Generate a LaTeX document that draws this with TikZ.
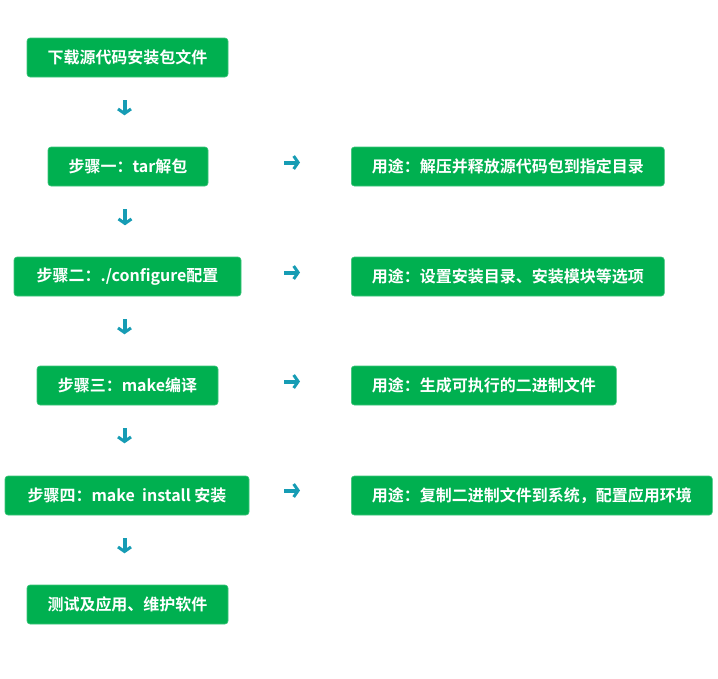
\documentclass[tikz,border=0pt]{standalone}
\usepackage{fontspec}
\usepackage{xcolor}
\usetikzlibrary{arrows.meta}
\newfontfamily\cjk[BoldFont={Noto Sans CJK SC Bold}]{Noto Sans CJK SC}

\definecolor{boxgreen}{HTML}{00B050}
\definecolor{edgegreen}{HTML}{3CC47A}
\definecolor{arrowteal}{HTML}{169CB4}

\begin{document}
\begin{tikzpicture}[x=1pt,y=-1pt,
    stepbox/.style={rectangle, rounded corners=3pt, fill=boxgreen, draw=edgegreen, line width=0.6pt,
        minimum height=39pt, inner sep=0pt, text=white, font=\cjk\bfseries\fontsize{16}{19}\selectfont},
    usebox/.style={stepbox, anchor=west},
    downarrow/.style={arrowteal, line width=4pt, -{Straight Barb[length=4.5pt,width=13pt,line width=3pt]}},
    rightarrow/.style={downarrow}]
        \useasboundingbox (0,0) rectangle (718,678);

        \node[stepbox, minimum width=201pt] (download) at (127.5,57.5) {下载源代码安装包文件};
        \node[stepbox, minimum width=160pt] (untar) at (128,166.5) {步骤一：tar解包};
        \node[stepbox, minimum width=227pt] (configure) at (127.5,276.5) {步骤二：./configure配置};
        \node[stepbox, minimum width=181pt] (make) at (127.5,385.5) {步骤三：make编译};
        \node[stepbox, minimum width=244pt] (install) at (127,495.5) {步骤四：make\ \ install 安装};
        \node[stepbox, minimum width=201pt] (test) at (127.5,604.5) {测试及应用、维护软件};

        \node[usebox, minimum width=313pt] (useuntar) at (351,166.5) {用途：解压并释放源代码包到指定目录};
        \node[usebox, minimum width=313pt] (useconfigure) at (351,276.5) {用途：设置安装目录、安装模块等选项};
        \node[usebox, minimum width=265pt] (usemake) at (351,385.5) {用途：生成可执行的二进制文件};
        \node[usebox, minimum width=361pt] (useinstall) at (351,495.5) {用途：复制二进制文件到系统，配置应用环境};

        % down arrows
        \draw[downarrow] ([xshift=-3pt,yshift=-23pt]download.south) -- ([xshift=-3pt,yshift=-38pt]download.south);
        \draw[downarrow] ([xshift=-3pt,yshift=-23pt]untar.south) -- ([xshift=-3pt,yshift=-39pt]untar.south);
        \draw[downarrow] ([xshift=-3pt,yshift=-23pt]configure.south) -- ([xshift=-3pt,yshift=-38pt]configure.south);
        \draw[downarrow] ([xshift=-3pt,yshift=-23pt]make.south) -- ([xshift=-3pt,yshift=-38pt]make.south);
        \draw[downarrow] ([xshift=-2.5pt,yshift=-23pt]install.south) -- ([xshift=-2.5pt,yshift=-38pt]install.south);

        % side arrows
        \draw[rightarrow] ([xshift=-67pt,yshift=4pt]useuntar.west) -- ([xshift=-51pt,yshift=4pt]useuntar.west);
        \draw[rightarrow] ([xshift=-67pt,yshift=4pt]useconfigure.west) -- ([xshift=-51pt,yshift=4pt]useconfigure.west);
        \draw[rightarrow] ([xshift=-67pt,yshift=4pt]usemake.west) -- ([xshift=-51pt,yshift=4pt]usemake.west);
        \draw[rightarrow] ([xshift=-67pt,yshift=5pt]useinstall.west) -- ([xshift=-51pt,yshift=5pt]useinstall.west);
\end{tikzpicture}
\end{document}
